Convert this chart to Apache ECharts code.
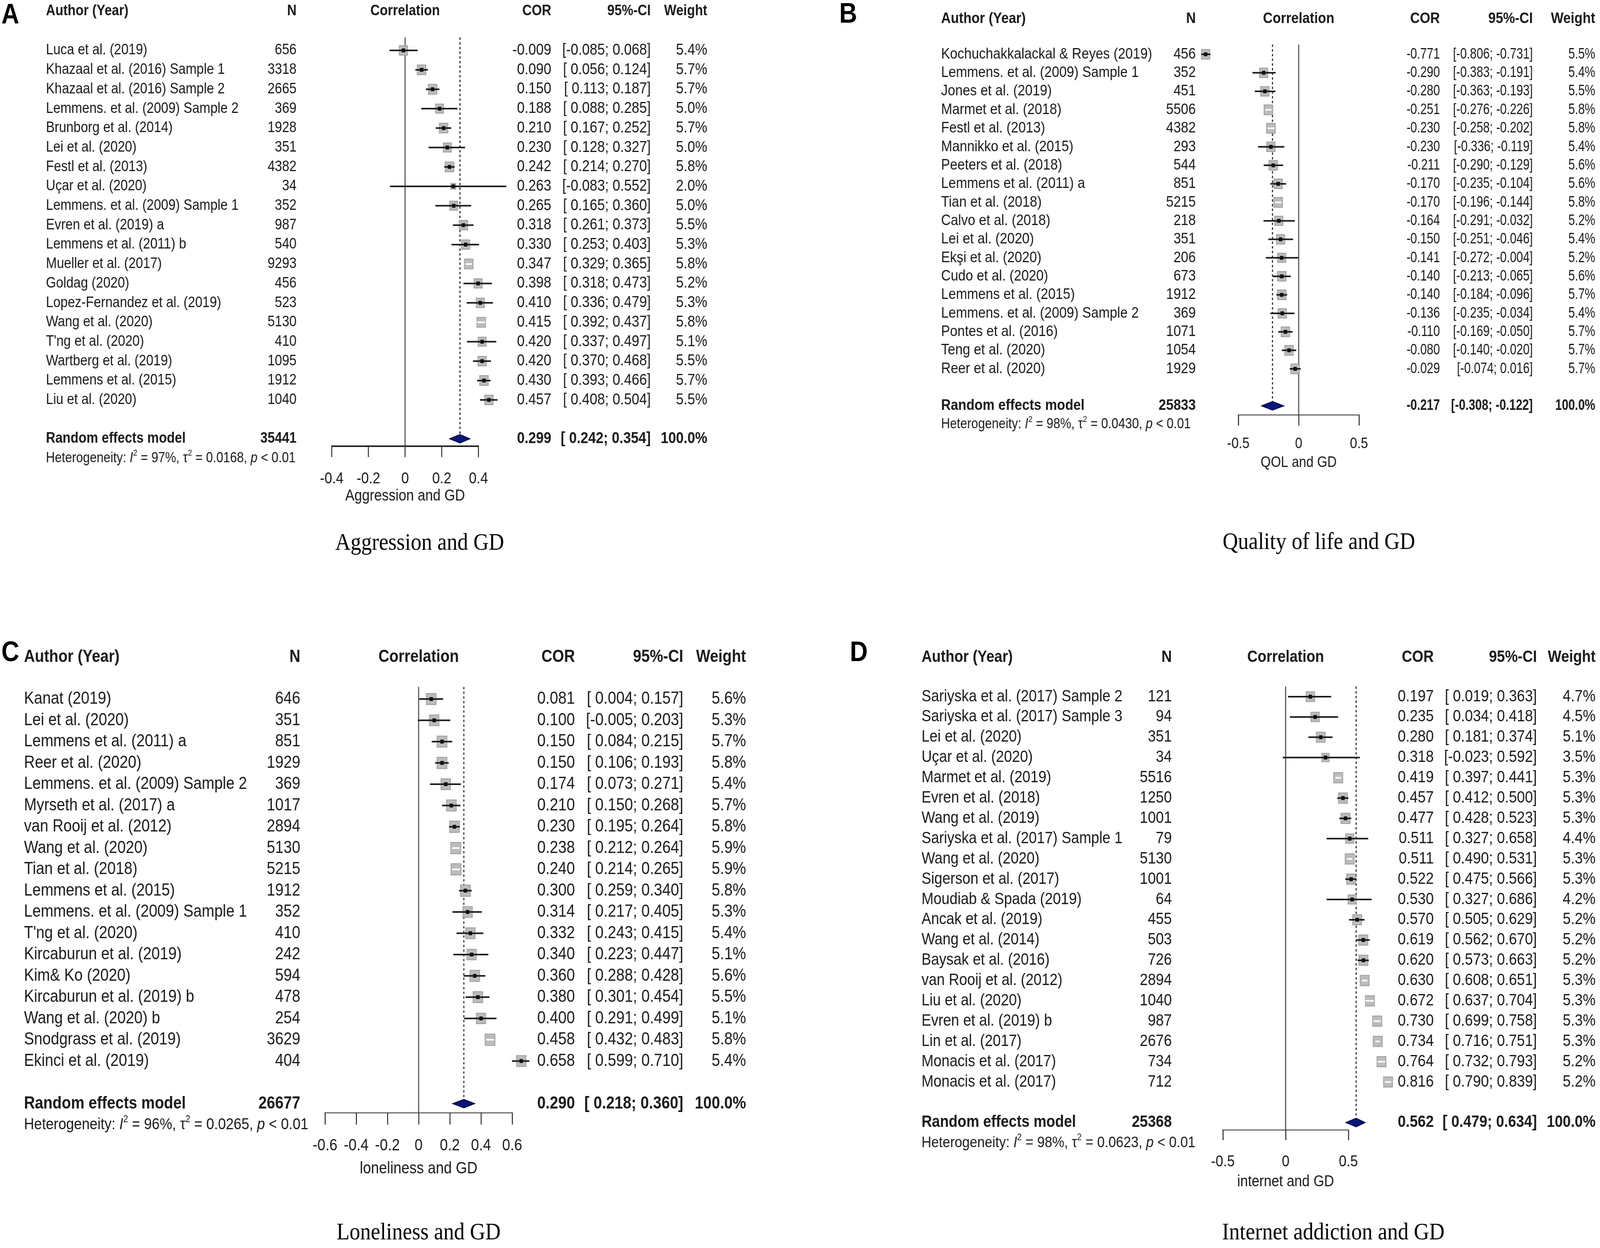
<!DOCTYPE html>
<html><head><meta charset="utf-8">
<script src="https://cdn.jsdelivr.net/npm/echarts/dist/echarts.min.js"></script>
<style>
html,body{margin:0;padding:0;background:#fff;overflow:hidden}
#wrap{position:fixed;left:0;top:0;width:100vw;height:100vh;overflow:hidden;background:#fff}
#c{position:absolute;left:0;top:0;width:4667px;height:3194px;transform-origin:0 0}
</style>
</head><body><div id="wrap"><div id="c"></div></div>
<script>
// ---------------- DATA ----------------
// Panel A: Aggression and GD
const authorsA = ["Luca et al. (2019)", "Khazaal et al. (2016) Sample 1", "Khazaal et al. (2016) Sample 2", "Lemmens. et al. (2009) Sample 2", "Brunborg et al. (2014)", "Lei et al. (2020)", "Festl et al. (2013)", "Uçar et al. (2020)", "Lemmens. et al. (2009) Sample 1", "Evren et al. (2019) a", "Lemmens et al. (2011) b", "Mueller et al. (2017)", "Goldag (2020)", "Lopez-Fernandez et al. (2019)", "Wang et al. (2020)", "T'ng et al. (2020)", "Wartberg et al. (2019)", "Lemmens et al. (2015)", "Liu et al. (2020)"];
const nA = [656, 3318, 2665, 369, 1928, 351, 4382, 34, 352, 987, 540, 9293, 456, 523, 5130, 410, 1095, 1912, 1040];
const corA = [-0.009, 0.090, 0.150, 0.188, 0.210, 0.230, 0.242, 0.263, 0.265, 0.318, 0.330, 0.347, 0.398, 0.410, 0.415, 0.420, 0.420, 0.430, 0.457];
const loA = [-0.085, 0.056, 0.113, 0.088, 0.167, 0.128, 0.214, -0.083, 0.165, 0.261, 0.253, 0.329, 0.318, 0.336, 0.392, 0.337, 0.370, 0.393, 0.408];
const hiA = [0.068, 0.124, 0.187, 0.285, 0.252, 0.327, 0.270, 0.552, 0.360, 0.373, 0.403, 0.365, 0.473, 0.479, 0.437, 0.497, 0.468, 0.466, 0.504];
const wA = [5.4, 5.7, 5.7, 5.0, 5.7, 5.0, 5.8, 2.0, 5.0, 5.5, 5.3, 5.8, 5.2, 5.3, 5.8, 5.1, 5.5, 5.7, 5.5];
const pooledA = [0.299, 0.242, 0.354];
const totalNA = 35441;
const hetA = ["97%", "0.0168"];

// Panel B: Quality of life and GD
const authorsB = ["Kochuchakkalackal & Reyes (2019)", "Lemmens. et al. (2009) Sample 1", "Jones et al. (2019)", "Marmet et al. (2018)", "Festl et al. (2013)", "Mannikko et al. (2015)", "Peeters et al. (2018)", "Lemmens et al. (2011) a", "Tian et al. (2018)", "Calvo et al. (2018)", "Lei et al. (2020)", "Ekşi et al. (2020)", "Cudo et al. (2020)", "Lemmens et al. (2015)", "Lemmens. et al. (2009) Sample 2", "Pontes et al. (2016)", "Teng et al. (2020)", "Reer et al. (2020)"];
const nB = [456, 352, 451, 5506, 4382, 293, 544, 851, 5215, 218, 351, 206, 673, 1912, 369, 1071, 1054, 1929];
const corB = [-0.771, -0.290, -0.280, -0.251, -0.230, -0.230, -0.211, -0.170, -0.170, -0.164, -0.150, -0.141, -0.140, -0.140, -0.136, -0.110, -0.080, -0.029];
const loB = [-0.806, -0.383, -0.363, -0.276, -0.258, -0.336, -0.290, -0.235, -0.196, -0.291, -0.251, -0.272, -0.213, -0.184, -0.235, -0.169, -0.140, -0.074];
const hiB = [-0.731, -0.191, -0.193, -0.226, -0.202, -0.119, -0.129, -0.104, -0.144, -0.032, -0.046, -0.004, -0.065, -0.096, -0.034, -0.050, -0.020, 0.016];
const wB = [5.5, 5.4, 5.5, 5.8, 5.8, 5.4, 5.6, 5.6, 5.8, 5.2, 5.4, 5.2, 5.6, 5.7, 5.4, 5.7, 5.7, 5.7];
const pooledB = [-0.217, -0.308, -0.122];
const totalNB = 25833;
const hetB = ["98%", "0.0430"];

// Panel C: Loneliness and GD
const authorsC = ["Kanat (2019)", "Lei et al. (2020)", "Lemmens et al. (2011) a", "Reer et al. (2020)", "Lemmens. et al. (2009) Sample 2", "Myrseth et al. (2017) a", "van Rooij et al. (2012)", "Wang et al. (2020)", "Tian et al. (2018)", "Lemmens et al. (2015)", "Lemmens. et al. (2009) Sample 1", "T'ng et al. (2020)", "Kircaburun et al. (2019)", "Kim& Ko (2020)", "Kircaburun et al. (2019) b", "Wang et al. (2020) b", "Snodgrass et al. (2019)", "Ekinci et al. (2019)"];
const nC = [646, 351, 851, 1929, 369, 1017, 2894, 5130, 5215, 1912, 352, 410, 242, 594, 478, 254, 3629, 404];
const corC = [0.081, 0.100, 0.150, 0.150, 0.174, 0.210, 0.230, 0.238, 0.240, 0.300, 0.314, 0.332, 0.340, 0.360, 0.380, 0.400, 0.458, 0.658];
const loC = [0.004, -0.005, 0.084, 0.106, 0.073, 0.150, 0.195, 0.212, 0.214, 0.259, 0.217, 0.243, 0.223, 0.288, 0.301, 0.291, 0.432, 0.599];
const hiC = [0.157, 0.203, 0.215, 0.193, 0.271, 0.268, 0.264, 0.264, 0.265, 0.340, 0.405, 0.415, 0.447, 0.428, 0.454, 0.499, 0.483, 0.710];
const wC = [5.6, 5.3, 5.7, 5.8, 5.4, 5.7, 5.8, 5.9, 5.9, 5.8, 5.3, 5.4, 5.1, 5.6, 5.5, 5.1, 5.8, 5.4];
const pooledC = [0.290, 0.218, 0.360];
const totalNC = 26677;
const hetC = ["96%", "0.0265"];

// Panel D: Internet addiction and GD
const authorsD = ["Sariyska et al. (2017) Sample 2", "Sariyska et al. (2017) Sample 3", "Lei et al. (2020)", "Uçar et al. (2020)", "Marmet et al. (2019)", "Evren et al. (2018)", "Wang et al. (2019)", "Sariyska et al. (2017) Sample 1", "Wang et al. (2020)", "Sigerson et al. (2017)", "Moudiab & Spada (2019)", "Ancak et al. (2019)", "Wang et al. (2014)", "Baysak et al. (2016)", "van Rooij et al. (2012)", "Liu et al. (2020)", "Evren et al. (2019) b", "Lin et al. (2017)", "Monacis et al. (2017)", "Monacis et al. (2017)"];
const nD = [121, 94, 351, 34, 5516, 1250, 1001, 79, 5130, 1001, 64, 455, 503, 726, 2894, 1040, 987, 2676, 734, 712];
const corD = [0.197, 0.235, 0.280, 0.318, 0.419, 0.457, 0.477, 0.511, 0.511, 0.522, 0.530, 0.570, 0.619, 0.620, 0.630, 0.672, 0.730, 0.734, 0.764, 0.816];
const loD = [0.019, 0.034, 0.181, -0.023, 0.397, 0.412, 0.428, 0.327, 0.490, 0.475, 0.327, 0.505, 0.562, 0.573, 0.608, 0.637, 0.699, 0.716, 0.732, 0.790];
const hiD = [0.363, 0.418, 0.374, 0.592, 0.441, 0.500, 0.523, 0.658, 0.531, 0.566, 0.686, 0.629, 0.670, 0.663, 0.651, 0.704, 0.758, 0.751, 0.793, 0.839];
const wD = [4.7, 4.5, 5.1, 3.5, 5.3, 5.3, 5.3, 4.4, 5.3, 5.3, 4.2, 5.2, 5.2, 5.2, 5.3, 5.3, 5.3, 5.3, 5.2, 5.2];
const pooledD = [0.562, 0.479, 0.634];
const totalND = 25368;
const hetD = ["98%", "0.0623"];

const headerLabels = ["Author (Year)", "N", "Correlation", "COR", "95%-CI", "Weight"];
const axisTitles = ["Aggression and GD", "QOL and GD", "loneliness and GD", "internet and GD"];
const captions = ["Aggression and GD", "Quality of life and GD", "Loneliness and GD", "Internet addiction and GD"];
const panelLetters = ["A", "B", "C", "D"];

// ---------------- LAYOUT ----------------
const SANS = "'Liberation Sans', Arial, sans-serif";
const SERIF = "'Liberation Serif', 'Times New Roman', serif";
const TXT = '#1a1a1a';

const layouts = [
  {zeroX:1181.6, unit:535, min:-0.4, max:0.4, interval:0.2, lineTop:96, axisY:1142, rowY0:129, rowH:49.7, headerY:29,
   fs:38, numFs:40, numScale:1, hfs:36, afs:40, authorX:134, nX:865, corX:1608, ciX:1898, wX:2063, labelMargin:64, nameGap:108, tickLen:28,
   axisColor:'#222', boxK:10.5, capX:1224, capY:1391, letterX:30, letterY:40},
  {zeroX:3788, unit:352, min:-0.5, max:0.5, interval:0.5, lineTop:114, axisY:1062, rowY0:139, rowH:47.35, headerY:48,
   fs:39, numFs:39, numScale:0.88, hfs:36, afs:38, authorX:2745, nX:3488, corX:4200, ciX:4471, wX:4653, labelMargin:56, nameGap:104, tickLen:27,
   axisColor:'#888', boxK:10.5, capX:3847, capY:1389, letterX:2474, letterY:38},
  {zeroX:1221, unit:455, min:-0.6, max:0.6, interval:0.2, lineTop:1758, axisY:2848, rowY0:1789, rowH:54.5, headerY:1682,
   fs:44, numFs:44, numScale:1, hfs:41, afs:42, authorX:70, nX:876, corX:1677, ciX:1993, wX:2176, labelMargin:63, nameGap:122, tickLen:30,
   axisColor:'#888', boxK:12, capX:1221, capY:3156, letterX:30, letterY:1672},
  {zeroX:3750, unit:366, min:-0.5, max:0.5, interval:0.5, lineTop:1757, axisY:2892, rowY0:1783, rowH:51.9, headerY:1682,
   fs:42, numFs:42, numScale:1, hfs:39.5, afs:40, authorX:2688, nX:3418, corX:4182, ciX:4483, wX:4654, labelMargin:62, nameGap:113, tickLen:26,
   axisColor:'#888', boxK:11.5, capX:3889, capY:3156, letterX:2505, letterY:1672}
];

const panels = [
  {authors:authorsA, n:nA, cor:corA, lo:loA, hi:hiA, w:wA, pooled:pooledA, totalN:totalNA, het:hetA},
  {authors:authorsB, n:nB, cor:corB, lo:loB, hi:hiB, w:wB, pooled:pooledB, totalN:totalNB, het:hetB},
  {authors:authorsC, n:nC, cor:corC, lo:loC, hi:hiC, w:wC, pooled:pooledC, totalN:totalNC, het:hetC},
  {authors:authorsD, n:nD, cor:corD, lo:loD, hi:hiD, w:wD, pooled:pooledD, totalN:totalND, het:hetD}
];

function f3(v){ return v.toFixed(3); }
function ciText(lo, hi){ return '[' + (lo < 0 ? '' : ' ') + f3(lo) + '; ' + f3(hi) + ']'; }
function font(size, bold){ return (bold ? 'bold ' : '') + size + 'px ' + SANS; }
function txt(x, y, text, align, size, bold, sc){
  return {type:'text', x:x, y:y, scaleX:(sc || 1), scaleY:1, style:{text:text, x:0, y:0, fill:TXT, font:font(size, bold),
    textAlign:align, textVerticalAlign:'middle', align:align, verticalAlign:'middle'}};
}

const option = {animation:false, backgroundColor:'#ffffff', grid:[], xAxis:[], yAxis:[], series:[], graphic:[]};

panels.forEach(function(P, k){
  const L = layouts[k];
  const n = P.authors.length;
  const yMin = (L.lineTop - L.rowY0) / L.rowH;
  const yMax = (L.axisY - L.rowY0) / L.rowH;
  const reRow = n + 1, hetRow = n + 2;
  const headRow = (L.headerY - L.rowY0) / L.rowH;

  option.grid.push({left: L.zeroX + L.min * L.unit, top: L.lineTop, width: (L.max - L.min) * L.unit, height: L.axisY - L.lineTop});
  option.xAxis.push({
    gridIndex:k, type:'value', position:'bottom', min:L.min, max:L.max, interval:L.interval,
    axisLine:{show:true, onZero:false, lineStyle:{color:L.axisColor, width:4}},
    axisTick:{show:true, length:L.tickLen, lineStyle:{color:'#333', width:3}},
    axisLabel:{show:true, fontSize:L.afs, fontFamily:SANS, color:TXT, margin:L.labelMargin,
      formatter:function(v){ return Math.abs(v) < 1e-9 ? '0' : String(+v.toFixed(2)); }},
    splitLine:{show:false},
    name:axisTitles[k], nameLocation:'middle', nameGap:L.nameGap,
    nameTextStyle:{fontSize:L.afs, fontFamily:SANS, color:TXT}
  });
  option.yAxis.push({gridIndex:k, type:'value', inverse:true, min:yMin, max:yMax, show:false,
    axisLine:{onZero:false}, splitLine:{show:false}});

  // reference lines: zero line and dotted pooled line
  option.series.push({
    type:'custom', xAxisIndex:k, yAxisIndex:k, z:1, silent:true, clip:false,
    data:[[P.pooled[0], reRow]],
    renderItem:function(params, api){
      const z1 = api.coord([0, yMin]), z2 = api.coord([0, yMax]);
      const d1 = api.coord([api.value(0), yMin]), d2 = api.coord([api.value(0), api.value(1)]);
      return {type:'group', children:[
        {type:'line', shape:{x1:z1[0], y1:z1[1], x2:z2[0], y2:z2[1]}, style:{stroke:'#444', lineWidth:3}},
        {type:'line', shape:{x1:d1[0], y1:d1[1], x2:d2[0], y2:d2[1]}, style:{stroke:'#222', lineWidth:3, lineDash:[6,6]}}
      ]};
    }
  });

  // study markers
  option.series.push({
    type:'custom', xAxisIndex:k, yAxisIndex:k, z:3, silent:true, clip:false,
    encode:{x:[0,2,3], y:1},
    data:P.cor.map(function(c, i){ return [c, i, P.lo[i], P.hi[i], P.w[i]]; }),
    renderItem:function(params, api){
      const i = api.value(1);
      const c = api.coord([api.value(0), i]);
      const l = api.coord([api.value(2), i]);
      const h = api.coord([api.value(3), i]);
      const side = L.boxK * Math.sqrt(api.value(4));
      const inside = (h[0] - l[0]) <= side;
      const ch = [
        {type:'rect', shape:{x:c[0]-side/2, y:c[1]-side/2, width:side, height:side}, style:{fill:'#bcbcbc', stroke:'#9a9a9a', lineWidth:2}},
        {type:'line', shape:{x1:l[0], y1:c[1], x2:h[0], y2:c[1]}, style:{stroke: inside ? '#ffffff' : '#1a1a1a', lineWidth:4}}
      ];
      if (!inside) ch.push({type:'rect', shape:{x:c[0]-5, y:c[1]-5, width:10, height:10}, style:{fill:'#111'}});
      return {type:'group', children:ch};
    }
  });

  // pooled diamond
  option.series.push({
    type:'custom', xAxisIndex:k, yAxisIndex:k, z:4, silent:true, clip:false,
    encode:{x:[0,2,3], y:1},
    data:[[P.pooled[0], reRow, P.pooled[1], P.pooled[2]]],
    renderItem:function(params, api){
      const r = api.value(1);
      const c = api.coord([api.value(0), r]);
      const l = api.coord([api.value(2), r]);
      const h = api.coord([api.value(3), r]);
      const hh = 11;
      return {type:'polygon', shape:{points:[[l[0], c[1]], [c[0], c[1]-hh], [h[0], c[1]], [c[0], c[1]+hh]]},
        style:{fill:'#0b1478', stroke:'#05093f', lineWidth:2}};
    }
  });

  // table text
  const tData = [];
  P.authors.forEach(function(a, i){ tData.push([0, i, 0, i]); });
  tData.push([0, headRow, 1, 0]);
  tData.push([0, reRow, 2, 0]);
  tData.push([0, hetRow, 3, 0]);
  option.series.push({
    type:'custom', xAxisIndex:k, yAxisIndex:k, z:5, silent:true, clip:false,
    data:tData,
    renderItem:function(params, api){
      const y = api.coord([0, api.value(1)])[1];
      const kind = api.value(2), i = api.value(3);
      const fs = L.fs, nf = L.numFs, ns = L.numScale;
      if (kind === 0) {
        return {type:'group', children:[
          txt(L.authorX, y, P.authors[i], 'left', fs, false),
          txt(L.nX, y, String(P.n[i]), 'right', fs, false),
          txt(L.corX, y, f3(P.cor[i]), 'right', nf, false, ns),
          txt(L.ciX, y, ciText(P.lo[i], P.hi[i]), 'right', nf, false, ns),
          txt(L.wX, y, P.w[i].toFixed(1) + '%', 'right', nf, false, ns)
        ]};
      } else if (kind === 1) {
        const zx = api.coord([0, 0])[0];
        return {type:'group', children:[
          txt(L.authorX, y, headerLabels[0], 'left', fs, true),
          txt(L.nX, y, headerLabels[1], 'right', fs, true),
          txt(zx, y, headerLabels[2], 'center', fs, true),
          txt(L.corX, y, headerLabels[3], 'right', fs, true),
          txt(L.ciX, y, headerLabels[4], 'right', fs, true),
          txt(L.wX, y, headerLabels[5], 'right', fs, true)
        ]};
      } else if (kind === 2) {
        return {type:'group', children:[
          txt(L.authorX, y, 'Random effects model', 'left', fs, true),
          txt(L.nX, y, String(P.totalN), 'right', fs, true),
          txt(L.corX, y, f3(P.pooled[0]), 'right', nf, true, ns),
          txt(L.ciX, y, ciText(P.pooled[1], P.pooled[2]), 'right', nf, true, ns),
          txt(L.wX, y, '100.0%', 'right', nf, true, ns)
        ]};
      } else {
        const hs = L.hfs;
        const base = {fontSize:hs, fontFamily:SANS, fill:TXT};
        return {type:'text', x:L.authorX, y:y, style:{
          text:'{n|Heterogeneity: }{i|I}{s|2}{n| = ' + P.het[0] + ', τ}{s|2}{n| = ' + P.het[1] + ', }{i|p}{n| < 0.01}',
          x:0, y:0, fill:TXT, font:font(hs, false), textAlign:'left', textVerticalAlign:'middle', align:'left', verticalAlign:'middle',
          rich:{
            n:Object.assign({}, base, {lineHeight:hs*1.3}),
            i:Object.assign({}, base, {fontStyle:'italic', lineHeight:hs*1.3}),
            s:Object.assign({}, base, {fontSize:Math.round(hs*0.6), verticalAlign:'top', lineHeight:hs*0.7})
          }
        }};
      }
    }
  });

  // panel letter and caption
  option.graphic.push({type:'text', x:L.letterX, y:L.letterY, silent:true,
    style:{text:panelLetters[k], fill:'#000', font:'bold 72px ' + SANS, textAlign:'center', textVerticalAlign:'middle', align:'center', verticalAlign:'middle'}});
  option.graphic.push({type:'text', x:L.capX, y:L.capY, silent:true,
    style:{text:captions[k], fill:'#000', font:'62px ' + SERIF, textAlign:'center', textVerticalAlign:'middle', align:'center', verticalAlign:'middle'}});
});

// fit the 4667x3194 design into whatever viewport the browser really has
const el = document.getElementById('c');
const sx = (window.innerWidth || 4667) / 4667;
const sy = (window.innerHeight || 3194) / 3194;
el.style.transform = 'scale(' + sx + ',' + sy + ')';
const chart = echarts.init(el, null, {renderer:'canvas'});
chart.setOption(option);
</script>
</body></html>
